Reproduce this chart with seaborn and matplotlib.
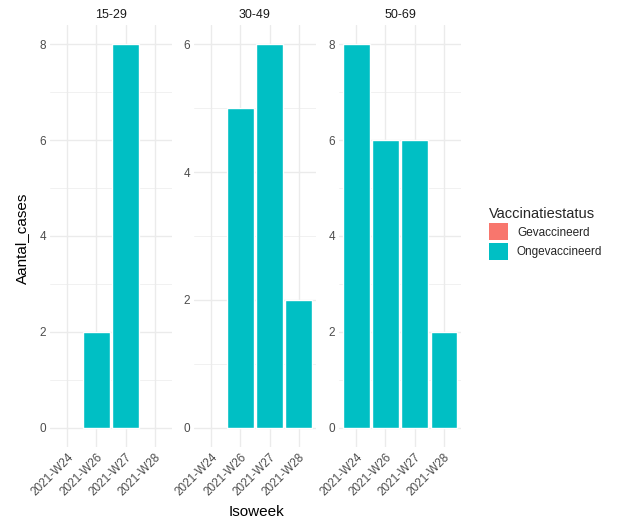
import seaborn as sns
import matplotlib.pyplot as plt
import pandas as pd
from matplotlib.patches import Patch
from matplotlib.ticker import MultipleLocator

sns.set_style("white")
plt.rcParams['font.family'] = ['Liberation Sans', 'DejaVu Sans']

# data
weeks = ["2021-W24", "2021-W26", "2021-W27", "2021-W28"]
age_groups = ["15-29", "30-49", "50-69"]
status_levels = ["Gevaccineerd", "Ongevaccineerd"]
palette = {"Gevaccineerd": "#F8766D", "Ongevaccineerd": "#00BFC4"}

cases_15_29 = {"2021-W26": 2, "2021-W27": 8}
cases_30_49 = {"2021-W26": 5, "2021-W27": 6, "2021-W28": 2}
cases_50_69 = {"2021-W24": 8, "2021-W26": 6, "2021-W27": 6, "2021-W28": 2}

rows = []
for grp, d in zip(age_groups, [cases_15_29, cases_30_49, cases_50_69]):
    for wk, n in d.items():
        rows.append({"Leeftijd": grp, "Isoweek": wk,
                     "Vaccinatiestatus": "Ongevaccineerd", "Aantal_cases": n})
df = pd.DataFrame(rows)

W, H = 618, 528
fig = plt.figure(figsize=(W / 100, H / 100), dpi=100)

panel_left = [50, 194, 339]
panel_w = 122
top, bottom = 25, 447
grid_col = "#EBEBEB"

for i, grp in enumerate(age_groups):
    ax = fig.add_axes([panel_left[i] / W, 1 - bottom / H, panel_w / W, (bottom - top) / H])
    sub = df[df["Leeftijd"] == grp]
    sns.barplot(data=sub, x="Isoweek", y="Aantal_cases", hue="Vaccinatiestatus",
                order=weeks, hue_order=status_levels, palette=palette,
                dodge=False, width=0.9, legend=False, ax=ax, saturation=1)
    ymax = sub["Aantal_cases"].max()
    ax.set_ylim(-0.05 * ymax, 1.05 * ymax)
    ax.set_xlim(-0.6, len(weeks) - 0.4)
    ax.yaxis.set_major_locator(MultipleLocator(2))
    ax.yaxis.set_minor_locator(MultipleLocator(1))
    ax.grid(True, which="major", color=grid_col, linewidth=1.0, zorder=0)
    ax.grid(True, which="minor", axis="y", color=grid_col, linewidth=0.5, zorder=0)
    ax.set_axisbelow(True)
    for s in ax.spines.values():
        s.set_visible(False)
    ax.tick_params(axis="both", length=0, labelsize=8.5, labelcolor="#4D4D4D", pad=3)
    ax.set_xticks(range(len(weeks)))
    ax.set_xticklabels(weeks, rotation=45, ha="right", rotation_mode="anchor")
    ax.set_xlabel("")
    ax.set_ylabel("")
    ax.set_title(grp, fontsize=9, color="#1A1A1A", pad=5)

fig.text(22 / W, 1 - 238 / H, "Aantal_cases", rotation=90, ha="center", va="center",
         fontsize=11, color="black")
fig.text(256 / W, 1 - 512 / H, "Isoweek", ha="center", va="center",
         fontsize=11, color="black")

handles = [Patch(facecolor=palette[s], edgecolor="none", label=s) for s in status_levels]
fig.legend(handles=handles, title="Vaccinatiestatus", loc="upper left",
           bbox_to_anchor=(478 / W, 1 - 196 / H), frameon=False, fontsize=8.5,
           title_fontsize=10.5, handlelength=1.6, handleheight=1.9,
           handletextpad=0.8, labelspacing=0.2, alignment="left")

fig.savefig("out.png", dpi=100)
plt.close(fig)
